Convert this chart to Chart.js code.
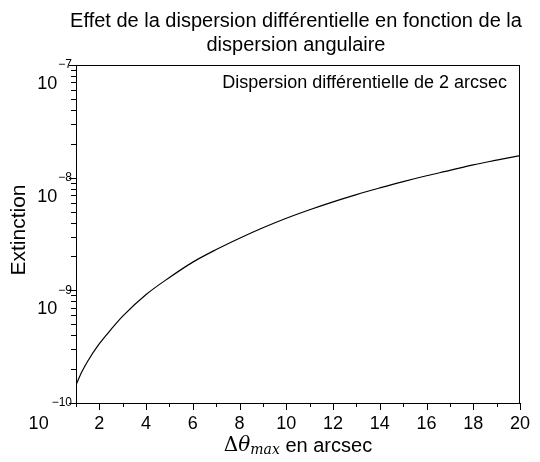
<!DOCTYPE html>
<html>
<head>
<meta charset="utf-8">
<script src="https://cdn.jsdelivr.net/npm/chart.js@4"></script>
<style>
  html, body { margin: 0; padding: 0; background: #fff; }
  #wrap { width: 540px; height: 462px; }
</style>
</head>
<body>
<div id="wrap"><canvas id="chart" width="540" height="462"></canvas></div>
<script>
// ========================
// DATA
// ========================
const thetaValues = [1, 1.25, 1.5, 2, 2.5, 3, 4, 5, 6, 7, 8, 9, 10, 11, 12, 13, 14, 15, 16, 17, 18, 19, 20];
const extinction = [
  1.45e-10, 1.89e-10, 2.35e-10, 3.36e-10, 4.5e-10, 5.9e-10, 9.18e-10, 1.30e-9, 1.78e-9,
  2.30e-9, 2.90e-9, 3.59e-9, 4.36e-9, 5.19e-9, 6.10e-9, 7.08e-9, 8.11e-9,
  9.23e-9, 1.04e-8, 1.16e-8, 1.30e-8, 1.43e-8, 1.57e-8
];
const xTickLabels = [2, 4, 6, 8, 10, 12, 14, 16, 18, 20];
const yExponents = [-10, -9, -8, -7];

const titleLines = ["Effet de la dispersion différentielle en fonction de la", "dispersion angulaire"];
const seriesLabel = "Dispersion différentielle de 2 arcsec";

const SANS = "'Liberation Sans', Arial, sans-serif";

// ========================
// CUSTOM DRAWING (title, box, ticks, axis labels)
// ========================
const decorations = {
  id: "decorations",
  afterDraw(chart) {
    const ctx = chart.ctx;
    const area = chart.chartArea;
    const xs = chart.scales.x;
    const ys = chart.scales.y;
    ctx.save();
    ctx.fillStyle = "#000";
    ctx.strokeStyle = "#000";

    // title
    const cx = (area.left + area.right) / 2;
    ctx.font = "20px " + SANS;
    ctx.textAlign = "center";
    ctx.textBaseline = "middle";
    ctx.fillText(titleLines[0], cx - 2, 21);
    ctx.fillText(titleLines[1], cx - 2, 45);

    // frame
    ctx.lineWidth = 1;
    ctx.strokeRect(area.left + 0.5, area.top + 0.5, area.right - area.left - 1, area.bottom - area.top);

    // x ticks (major on even, minor on odd)
    ctx.beginPath();
    for (let v = 1; v <= 20; v++) {
      const px = Math.round(xs.getPixelForValue(v)) + 0.5;
      const len = v % 2 === 0 ? 7 : 4;
      ctx.moveTo(px, area.bottom);
      ctx.lineTo(px, area.bottom + len);
    }
    // y ticks (log decades + minor)
    yExponents.forEach((e, i) => {
      for (let m = 1; m <= 9; m++) {
        if (m > 1 && i === yExponents.length - 1) break;
        const py = Math.round(ys.getPixelForValue(m * Math.pow(10, e))) + 0.5;
        const len = m === 1 ? 7 : 5;
        ctx.moveTo(area.left, py);
        ctx.lineTo(area.left - len, py);
      }
    });
    ctx.stroke();

    // y labels: 10 with superscript exponent
    yExponents.forEach(e => {
      const py = ys.getPixelForValue(Math.pow(10, e));
      const expText = "\u2212" + Math.abs(e);
      ctx.font = "12px " + SANS;
      ctx.textAlign = "right";
      ctx.textBaseline = "middle";
      const expRight = area.left - 4;
      ctx.fillText(expText, expRight, py);
      const w = ctx.measureText(expText).width;
      ctx.font = "18px " + SANS;
      ctx.fillText("10", expRight - w - (e === -10 ? 3 : 1), py + (e === -10 ? 21 : 19));
    });

    // series label inside plot
    ctx.font = "18px " + SANS;
    ctx.textAlign = "right";
    ctx.textBaseline = "middle";
    ctx.fillText(seriesLabel, area.right - 13, 83);

    // y axis title
    ctx.save();
    ctx.translate(19, 230);
    ctx.rotate(-Math.PI / 2);
    ctx.font = "21px " + SANS;
    ctx.textAlign = "center";
    ctx.fillText("Extinction", 0, 0);
    ctx.restore();

    // x axis title: Δθ_max en arcsec
    const parts = [
      { t: "\u0394", f: "20px 'DejaVu Serif', serif", dy: 0 },
      { t: "\u03B8", f: "italic 20px 'DejaVu Serif', serif", dy: 0 },
      { t: "max", f: "italic 14px 'DejaVu Serif', serif", dy: 4 },
      { t: " en arcsec", f: "20px " + SANS, dy: 0 }
    ];
    let total = 0;
    parts.forEach(p => { ctx.font = p.f; p.w = ctx.measureText(p.t).width; total += p.w; });
    let x0 = cx - total / 2;
    ctx.textAlign = "left";
    ctx.textBaseline = "middle";
    parts.forEach(p => {
      ctx.font = p.f;
      ctx.fillText(p.t, x0, 446 + p.dy);
      x0 += p.w;
    });
    ctx.restore();
  }
};

// ========================
// CHART
// ========================
const ctx = document.getElementById("chart").getContext("2d");
new Chart(ctx, {
  type: "line",
  data: {
    datasets: [{
      label: seriesLabel,
      data: thetaValues.map((t, i) => ({ x: t, y: extinction[i] })),
      borderColor: "#000",
      borderWidth: 1.2,
      pointRadius: 0,
      fill: false,
      cubicInterpolationMode: "monotone"
    }]
  },
  options: {
    responsive: false,
    animation: false,
    layout: { padding: { top: 65, right: 14, left: 0, bottom: 0 } },
    plugins: {
      legend: { display: false },
      title: { display: false },
      tooltip: { enabled: false }
    },
    scales: {
      x: {
        type: "linear",
        min: 1,
        max: 20,
        afterBuildTicks: scale => { scale.ticks = xTickLabels.map(v => ({ value: v })); },
        ticks: {
          color: "#000",
          font: { family: SANS, size: 18 },
          padding: 10,
          maxRotation: 0
        },
        grid: { display: false, drawTicks: false },
        border: { display: false },
        afterFit: scale => { scale.height = 59; }
      },
      y: {
        type: "logarithmic",
        min: 1e-10,
        max: 1e-7,
        ticks: { display: false },
        grid: { display: false },
        border: { display: false },
        afterFit: scale => { scale.width = 76; }
      }
    }
  },
  plugins: [decorations]
});
</script>
</body>
</html>
